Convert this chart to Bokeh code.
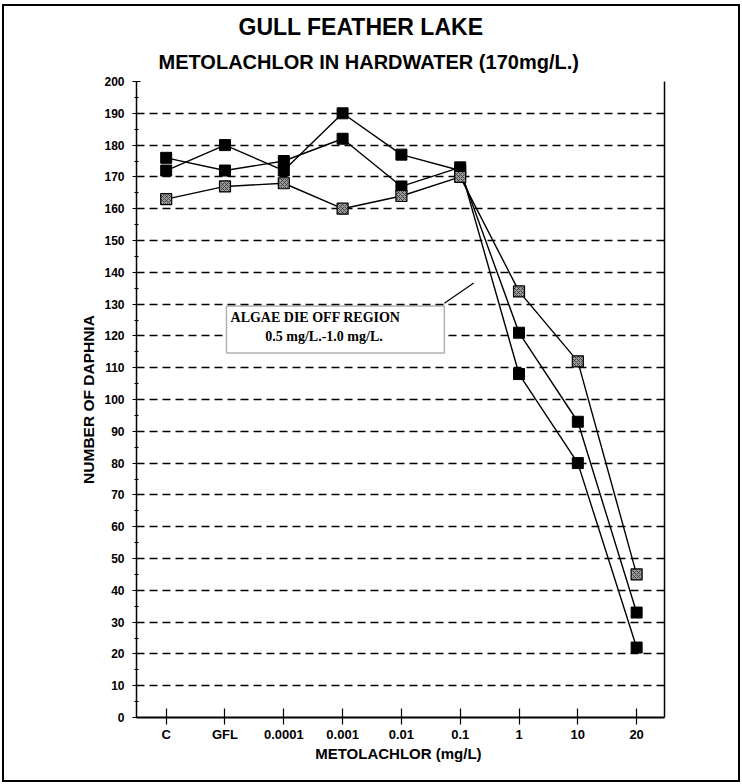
from bokeh.plotting import figure
from bokeh.models import (Range1d, FixedTicker, LinearAxis, Label, BoxAnnotation,
                          ColumnDataSource, Title)
from bokeh.embed import file_html
from bokeh.resources import INLINE

categories = ["C", "GFL", "0.0001", "0.001", "0.01", "0.1", "1", "10", "20"]
series_a = [172, 180, 172, 190, 177, 172, 121, 93, 33]
series_b = [176, 172, 175, 182, 167, 173, 108, 80, 22]
series_c = [163, 167, 168, 160, 164, 170, 134, 112, 45]
y_ticks = list(range(0, 201, 10))
y_minor = list(range(5, 200, 10))

xs = list(range(len(categories)))
src = ColumnDataSource(dict(x=xs, a=series_a, b=series_b, c=series_c))

FONT = "Liberation Sans"
SERIF = "Liberation Serif"

p = figure(width=734, height=774, output_backend="svg", toolbar_location=None,
           x_range=Range1d(-0.505, 8.474), y_range=Range1d(0, 200),
           frame_width=528, frame_height=636,
           min_border_left=132, min_border_top=75, min_border_right=74,
           min_border_bottom=63, title=None)
p.margin = (6, 0, 0, 4)
p.outline_line_color = None
p.background_fill_color = "white"
p.border_fill_color = "white"
# outer frame round the whole chart
p.styles = {"outline": "2px solid black"}

# grid
p.xgrid.visible = False
p.ygrid.ticker = FixedTicker(ticks=y_ticks)
p.ygrid.grid_line_color = "black"
p.ygrid.grid_line_width = 1.5
p.ygrid.grid_line_dash = "8 5"

# y axis
ya = p.yaxis[0]
ya.ticker = FixedTicker(ticks=y_ticks, minor_ticks=y_minor)
ya.axis_line_color = "black"
ya.axis_line_width = 1.5
ya.major_tick_in = 4
ya.major_tick_out = 4
ya.minor_tick_in = 2
ya.minor_tick_out = 2
ya.major_tick_line_color = "black"
ya.minor_tick_line_color = "black"
ya.major_label_text_font = FONT
ya.major_label_text_font_style = "bold"
ya.major_label_text_font_size = "12px"
ya.major_label_text_color = "black"
ya.major_label_standoff = 8
ya.axis_label = "NUMBER OF DAPHNIA"
ya.axis_label_text_font = FONT
ya.axis_label_text_font_style = "bold"
ya.axis_label_text_font_size = "15.5px"
ya.axis_label_text_color = "black"
ya.axis_label_standoff = 4

# x axis
xa = p.xaxis[0]
xa.ticker = FixedTicker(ticks=xs, minor_ticks=[])
xa.major_label_overrides = {i: c for i, c in enumerate(categories)}
xa.axis_line_color = "black"
xa.axis_line_width = 2
xa.major_tick_in = 9
xa.major_tick_out = 7
xa.major_tick_line_color = "black"
xa.major_tick_line_width = 1.2
xa.minor_tick_line_color = None
xa.major_label_text_font = FONT
xa.major_label_text_font_style = "bold"
xa.major_label_text_font_size = "13px"
xa.major_label_text_color = "black"
xa.major_label_standoff = 2
xa.axis_label = "METOLACHLOR  (mg/L)"
xa.axis_label_text_font = FONT
xa.axis_label_text_font_style = "bold"
xa.axis_label_text_font_size = "15px"
xa.axis_label_text_color = "black"
xa.axis_label_standoff = 0

# right border line
ra = LinearAxis(ticker=FixedTicker(ticks=[]), major_label_text_font_size="0px",
                axis_line_color="black", axis_line_width=1.5,
                major_tick_line_color=None, minor_tick_line_color=None)
p.add_layout(ra, "right")

# titles (first added sits closest to the frame)
p.add_layout(Title(text="METOLACHLOR IN HARDWATER (170mg/L.)", align="left",
                   offset=22, standoff=18, text_font=FONT,
                   text_font_style="bold", text_font_size="20px",
                   text_color="black"), "above")
p.add_layout(Title(text="GULL FEATHER LAKE", align="left", offset=102,
                   standoff=0, text_font=FONT, text_font_style="bold",
                   text_font_size="23px", text_color="black"), "above")

# series
for col in ("a", "b", "c"):
    p.line("x", col, source=src, line_color="black", line_width=1.4)
p.scatter("x", "a", source=src, marker="square", size=11, fill_color="black",
          line_color="black")
p.scatter("x", "b", source=src, marker="square", size=11, fill_color="black",
          line_color="black")
p.scatter("x", "c", source=src, marker="square", size=11, fill_color="#9a9a9a",
          line_color="black", line_width=1.2, hatch_pattern="x",
          hatch_color="#333333", hatch_scale=4, hatch_weight=0.8)

# annotation box
box = BoxAnnotation(left=1.025, right=4.73, bottom=114.6, top=129.4,
                    fill_color="white", fill_alpha=1.0, line_color="black",
                    line_width=1.5)
p.add_layout(box)
p.segment(x0=[4.73], y0=[130.3], x1=[5.23], y1=[136.6], line_color="black",
          line_width=1.2)
p.add_layout(Label(x=1.094, y=125.8, text="ALGAE DIE OFF REGION",
                   text_font=SERIF, text_font_style="bold", text_font_size="14px",
                   text_color="black", text_align="left",
                   text_baseline="alphabetic"))
p.add_layout(Label(x=2.684, y=119.85, text="0.5 mg/L.-1.0 mg/L.",
                   text_font=SERIF, text_font_style="bold", text_font_size="14px",
                   text_color="black", text_align="center",
                   text_baseline="alphabetic"))

open("out.html", "w").write(file_html(p, INLINE))
